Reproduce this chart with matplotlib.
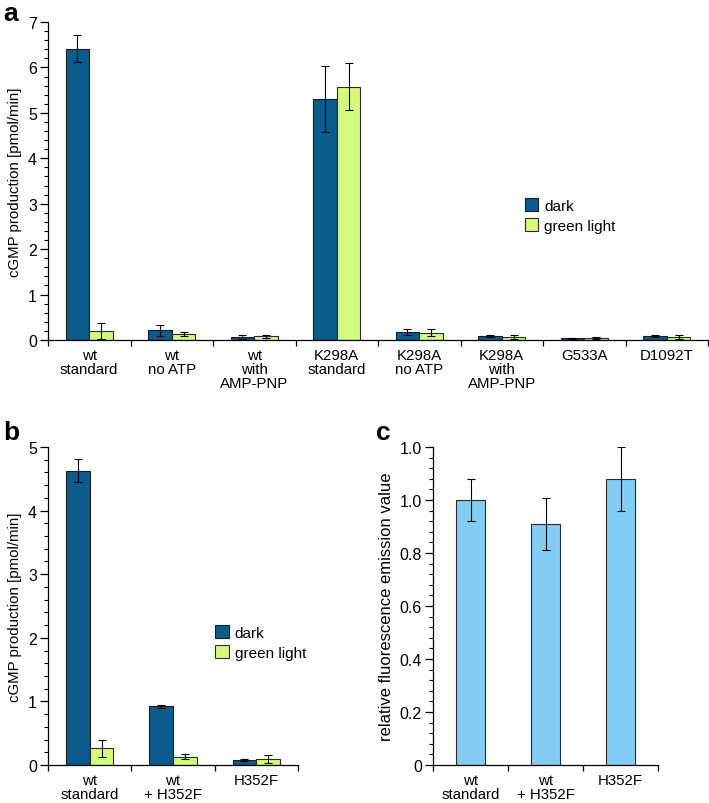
import matplotlib
matplotlib.use("Agg")
import matplotlib.pyplot as plt
import numpy as np
from matplotlib.ticker import MultipleLocator

plt.rcParams['font.family'] = ['Liberation Sans', 'DejaVu Sans']

# colours
DARK = '#0b5b8c'
GREEN = '#d5fb7c'
LIGHTBLUE = '#84ccf2'

# panel a data
a_labels = ['wt\nstandard', 'wt\nno ATP', 'wt\nwith\nAMP-PNP', 'K298A\nstandard',
            'K298A\nno ATP', 'K298A\nwith\nAMP-PNP', 'G533A', 'D1092T']
a_dark = [6.41, 0.21, 0.07, 5.31, 0.18, 0.09, 0.04, 0.08]
a_dark_err = [0.30, 0.12, 0.05, 0.73, 0.07, 0.03, 0.01, 0.02]
a_green = [0.20, 0.13, 0.08, 5.58, 0.16, 0.07, 0.04, 0.07]
a_green_err = [0.17, 0.04, 0.04, 0.51, 0.08, 0.05, 0.02, 0.04]

# panel b data
b_labels = ['wt\nstandard', 'wt\n+ H352F', 'H352F']
b_dark = [4.63, 0.92, 0.08]
b_dark_err = [0.18, 0.02, 0.02]
b_green = [0.26, 0.13, 0.09]
b_green_err = [0.14, 0.04, 0.06]

# panel c data
c_labels = ['wt\nstandard', 'wt\n+ H352F', 'H352F']
c_vals = [1.00, 0.91, 1.08]
c_err = [0.08, 0.097, 0.12]
c_ticklabels = ['0', '0.2', '0.4', '0.6', '0.8', '1.0', '1.0']

W, H = 709, 804
fig = plt.figure(figsize=(W / 100, H / 100), dpi=100)


def box(l, t, r, b):
    return [l / W, 1 - b / H, (r - l) / W, (b - t) / H]


def style(ax, n, ymax, major):
    ax.spines['top'].set_visible(False)
    ax.spines['right'].set_visible(False)
    for s in ('left', 'bottom'):
        ax.spines[s].set_linewidth(0.9)
    ax.set_xlim(0, n)
    ax.set_ylim(0, ymax)
    ax.set_xticks(np.arange(n + 1))
    ax.set_xticklabels([])
    ax.set_xticks(np.arange(n) + 0.5, minor=True)
    ax.tick_params(axis='x', which='major', length=4, width=0.9, direction='out')
    ax.tick_params(axis='x', which='minor', length=0, labelsize=10.8, pad=6)
    ax.yaxis.set_major_locator(MultipleLocator(major))
    ax.yaxis.set_minor_locator(MultipleLocator(major / 5))
    ax.tick_params(axis='y', which='major', length=6, width=0.9, labelsize=11.5, pad=2)
    ax.tick_params(axis='y', which='minor', length=3, width=0.8)


ekw = dict(elinewidth=0.8, capthick=0.8, ecolor='black')


def grouped(ax, labels, dark, dark_err, green, green_err, ymax):
    n = len(labels)
    x = np.arange(n) + 0.5
    w = 0.285
    ax.bar(x - w / 2, dark, w, yerr=dark_err, color=DARK, edgecolor='#1a1a1a',
           linewidth=0.8, capsize=2.8, error_kw=ekw, label='dark', zorder=2)
    ax.bar(x + w / 2, green, w, yerr=green_err, color=GREEN, edgecolor='#2a2a2a',
           linewidth=0.8, capsize=2.8, error_kw=ekw, label='green light', zorder=2)
    style(ax, n, ymax, 1)
    ax.set_xticklabels(labels, minor=True, linespacing=1.0)
    ax.set_ylabel('cGMP production [pmol/min]', fontsize=10.8, labelpad=4)


# panel a
ax_a = fig.add_axes(box(48, 23, 708, 341))
grouped(ax_a, a_labels, a_dark, a_dark_err, a_green, a_green_err, 7)
ax_a.legend(loc='upper left', bbox_to_anchor=(0.722, 0.445), frameon=False,
            fontsize=11, handlelength=0.9, handleheight=0.9, handletextpad=0.4,
            labelspacing=0.35, borderpad=0, borderaxespad=0)

# panel b
ax_b = fig.add_axes(box(48, 448, 298, 766))
grouped(ax_b, b_labels, b_dark, b_dark_err, b_green, b_green_err, 5)
ax_b.legend(loc='upper left', bbox_to_anchor=(0.668, 0.44), frameon=False,
            fontsize=11, handlelength=0.9, handleheight=0.9, handletextpad=0.4,
            labelspacing=0.35, borderpad=0, borderaxespad=0)

# panel c
ax_c = fig.add_axes(box(433, 448, 658, 766))
xc = np.arange(len(c_labels)) + 0.5
ax_c.bar(xc, c_vals, 0.39, yerr=c_err, color=LIGHTBLUE, edgecolor='#2a2a2a',
         linewidth=0.8, capsize=2.8, error_kw=ekw, zorder=2)
style(ax_c, len(c_labels), 1.2, 0.2)
ax_c.yaxis.set_minor_locator(MultipleLocator(0.04))
ax_c.set_yticks(np.arange(7) * 0.2)
ax_c.set_yticklabels(c_ticklabels)
ax_c.set_xticklabels(c_labels, minor=True, linespacing=1.0)
ax_c.set_ylabel('relative fluorescence emission value', fontsize=12, labelpad=4)

# panel letters
fig.text(3 / W, 1 - 2 / H, 'a', fontsize=19, fontweight='bold', va='top')
fig.text(3 / W, 1 - 421 / H, 'b', fontsize=19, fontweight='bold', va='top')
fig.text(376 / W, 1 - 421 / H, 'c', fontsize=19, fontweight='bold', va='top')

fig.savefig('out.png', dpi=100)
